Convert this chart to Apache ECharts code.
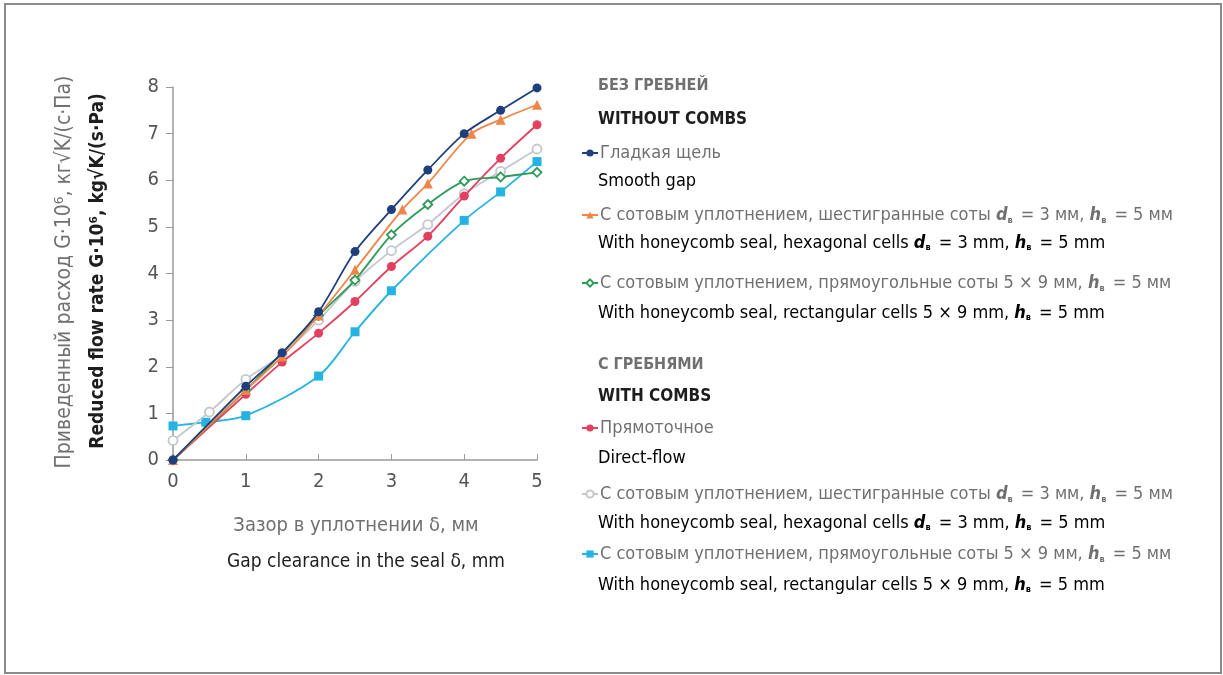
<!DOCTYPE html>
<html><head><meta charset="utf-8">
<script src="https://cdn.jsdelivr.net/npm/echarts@6/dist/echarts.min.js"></script>
<style>html,body{margin:0;padding:0;background:#fff}#c{width:1223px;height:675px}</style>
</head><body><div id="c"></div>
<script>
// gap clearance (mm) and reduced flow rate values per series
const xSmooth = [0, 1, 1.5, 2, 2.5, 3, 3.5, 4, 4.5, 5];
const ySmooth = [0, 1.58, 2.3, 3.18, 4.47, 5.37, 6.22, 7.0, 7.5, 7.98];
const xHex = [0, 1, 1.5, 2, 2.5, 3.15, 3.5, 4.1, 4.5, 5];
const yHex = [0, 1.5, 2.22, 3.1, 4.08, 5.37, 5.93, 7.0, 7.3, 7.62];
const xRect = [0, 1, 2, 2.5, 3, 3.5, 4, 4.5, 5];
const yRect = [0, 1.5, 3.1, 3.86, 4.83, 5.48, 5.98, 6.07, 6.17];
const xDirect = [0, 1, 1.5, 2, 2.5, 3, 3.5, 4, 4.5, 5];
const yDirect = [0, 1.41, 2.1, 2.72, 3.4, 4.15, 4.8, 5.66, 6.47, 7.19];
const xHexC = [0, 0.5, 1, 1.5, 2, 2.5, 3, 3.5, 4, 4.5, 5];
const yHexC = [0.42, 1.03, 1.73, 2.26, 3.0, 3.83, 4.49, 5.05, 5.71, 6.19, 6.67];
const xRectC = [0, 0.45, 1, 2, 2.5, 3, 4, 4.5, 5];
const yRectC = [0.73, 0.81, 0.95, 1.8, 2.75, 3.63, 5.14, 5.75, 6.4];
const xTicks = [0, 1, 2, 3, 4, 5];
const yTicks = [0, 1, 2, 3, 4, 5, 6, 7, 8];

const namesRu = ['{r|Гладкая щель}',
  '{r|С сотовым уплотнением, шестигранные соты }{i|d}{s|в}{r| = 3 мм, }{i|h}{s|в}{r| = 5 мм}',
  '{r|С сотовым уплотнением, прямоугольные соты 5 × 9 мм, }{i|h}{s|в}{r| = 5 мм}',
  '{r|Прямоточное}',
  '{r|С сотовым уплотнением, шестигранные соты }{i|d}{s|в}{r| = 3 мм, }{i|h}{s|в}{r| = 5 мм}',
  '{r|С сотовым уплотнением, прямоугольные соты 5 × 9 мм, }{i|h}{s|в}{r| = 5 мм}'];
const namesEn = ['{r|Smooth gap}',
  '{r|With honeycomb seal, hexagonal cells }{i|d}{s|в}{r| = 3 mm, }{i|h}{s|в}{r| = 5 mm}',
  '{r|With honeycomb seal, rectangular cells 5 × 9 mm, }{i|h}{s|в}{r| = 5 mm}',
  '{r|Direct-flow}',
  '{r|With honeycomb seal, hexagonal cells }{i|d}{s|в}{r| = 3 mm, }{i|h}{s|в}{r| = 5 mm}',
  '{r|With honeycomb seal, rectangular cells 5 × 9 mm, }{i|h}{s|в}{r| = 5 mm}'];
const headers = [['БЕЗ ГРЕБНЕЙ', 'WITHOUT COMBS'], ['С ГРЕБНЯМИ', 'WITH COMBS']];

const FONT = '"DejaVu Sans Condensed", "Liberation Sans Narrow", "Noto Sans", sans-serif';
const GREY = '#707070', DARK = '#1e1e1e';
const FS = 18;

const seriesDefs = [
  {x: xSmooth, y: ySmooth, color: '#1f3f7c', symbol: 'circle', fill: true},
  {x: xHex, y: yHex, color: '#f08548', symbol: 'triangle', fill: true},
  {x: xRect, y: yRect, color: '#2e9b5a', symbol: 'diamond', fill: false},
  {x: xDirect, y: yDirect, color: '#e2405e', symbol: 'circle', fill: true},
  {x: xHexC, y: yHexC, color: '#c3c8ce', symbol: 'circle', fill: false},
  {x: xRectC, y: yRectC, color: '#25b3e3', symbol: 'rect', fill: true}
];
const ids = ['s0','s1','s2','s3','s4','s5'];

function richFor(color, fs) {
  return {
    r: {fontFamily: FONT, fontSize: fs, color: color},
    i: {fontFamily: FONT, fontSize: fs, color: color, fontStyle: 'italic', fontWeight: 'bold'},
    s: {fontFamily: FONT, fontSize: 9, color: color, fontWeight: 'bold', verticalAlign: 'bottom', padding: [9, 3, 0, 0]}
  };
}

const series = seriesDefs.map((d, k) => ({
  name: ids[k], type: 'line', smooth: 0.3,
  data: d.x.map((v, j) => [v, d.y[j]]),
  symbol: d.symbol, symbolSize: d.symbol === 'triangle' ? 10 : 9,
  lineStyle: {color: d.color, width: 1.8},
  itemStyle: {color: d.fill ? d.color : '#ffffff', borderColor: d.color, borderWidth: d.fill ? 0 : 1.8},
  z: 10 - k
}));

// legend rows: center y of Russian line / English line
const rowY = [[153, 181], [215, 243], [283, 313], [428, 458], [494, 523], [554, 585]];
const headY = [[86, 120], [365, 397]];

const legends = ids.map((id, k) => ({
  data: [id], left: 581, top: rowY[k][0] - 10, orient: 'vertical',
  itemWidth: 16, itemHeight: 9, itemGap: 0, padding: 0, selectedMode: false,
  formatter: () => namesRu[k],
  textStyle: {lineHeight: 20, padding: [0, 0, 0, -3], rich: richFor(GREY, FS)}
}));

const graphics = [
  {type: 'rect', shape: {x: 5, y: 4, width: 1216, height: 669}, style: {fill: 'none', stroke: '#8a8a8a', lineWidth: 2}},
  {type: 'text', x: 65, y: 272, rotation: Math.PI / 2, style: {text: 'Приведенный расход G·10⁶, кг√K/(с·Па)', fontFamily: FONT, fontSize: 21, fill: GREY, align: 'center', verticalAlign: 'middle'}},
  {type: 'text', x: 98, y: 271, rotation: Math.PI / 2, style: {text: 'Reduced flow rate G·10⁶, kg√K/(s·Pa)', fontFamily: FONT, fontSize: 19, fontWeight: 'bold', fill: DARK, align: 'center', verticalAlign: 'middle'}},
  {type: 'text', x: 356, y: 526, style: {text: 'Зазор в уплотнении δ, мм', fontFamily: FONT, fontSize: 20, fill: GREY, align: 'center', verticalAlign: 'middle'}},
  {type: 'text', x: 366, y: 562, style: {text: 'Gap clearance in the seal δ, mm', fontFamily: FONT, fontSize: 19, fill: DARK, align: 'center', verticalAlign: 'middle'}}
];
headers.forEach((h, k) => {
  graphics.push({type: 'text', x: 598, y: headY[k][0], style: {text: h[0], fontFamily: FONT, fontSize: 16, fontWeight: 'bold', fill: GREY, verticalAlign: 'middle'}});
  graphics.push({type: 'text', x: 598, y: headY[k][1], style: {text: h[1], fontFamily: FONT, fontSize: 17, fontWeight: 'bold', fill: DARK, verticalAlign: 'middle'}});
});
namesEn.forEach((t, k) => {
  graphics.push({type: 'text', x: 598, y: rowY[k][1], style: {text: t, rich: richFor(DARK, FS), verticalAlign: 'middle'}});
});

const chart = echarts.init(document.getElementById('c'), null, {renderer: 'canvas'});
chart.setOption({
  backgroundColor: '#ffffff',
  animation: false,
  grid: {left: 173, right: 686, top: 87, bottom: 215, containLabel: false},
  xAxis: {
    type: 'value', min: xTicks[0], max: xTicks[xTicks.length - 1], interval: 1,
    axisLine: {lineStyle: {color: '#9a9a9a', width: 1.5}},
    axisTick: {show: true, inside: true, length: 6, lineStyle: {color: '#9a9a9a'}},
    axisLabel: {color: '#555', fontFamily: FONT, fontSize: 20, margin: 12, formatter: v => xTicks.includes(v) ? String(v) : ''},
    splitLine: {show: false}
  },
  yAxis: {
    type: 'value', min: yTicks[0], max: yTicks[yTicks.length - 1], interval: 1,
    axisLine: {show: true, lineStyle: {color: '#9a9a9a', width: 1.5}},
    axisTick: {show: true, inside: false, length: 7, lineStyle: {color: '#9a9a9a'}},
    axisLabel: {color: '#555', fontFamily: FONT, fontSize: 20, margin: 14, formatter: v => yTicks.includes(v) ? String(v) : ''},
    splitLine: {show: false}
  },
  legend: legends,
  graphic: graphics,
  series: series
});
</script></body></html>
